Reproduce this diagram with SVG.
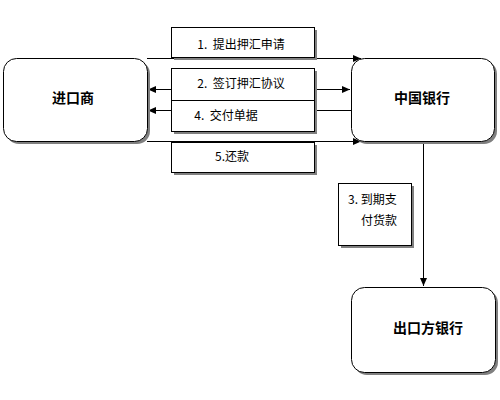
<svg xmlns="http://www.w3.org/2000/svg" width="500" height="400" viewBox="0 0 500 400">
<style>
.node{fill:#fff;stroke:#000;stroke-width:1}
.sh{fill:#808080}
.lbl{fill:#fff;stroke:#000;stroke-width:1}
.t{font-family:"Noto Sans CJK SC","Noto Sans",sans-serif;font-size:12px;fill:#000}
.big{font-family:"Noto Sans CJK SC","Noto Sans",sans-serif;font-size:14px;font-weight:bold;fill:#000}
.c{fill:none;stroke:#000;stroke-width:1}
</style>
<defs>
<marker id="ah" viewBox="0 0 8 8" refX="8" refY="4" markerWidth="8" markerHeight="8" markerUnits="userSpaceOnUse" orient="auto-start-reverse">
<path d="M0,0.5 L8,4 L0,7.5 z" fill="#000"/>
</marker>
</defs>
<rect width="500" height="400" fill="#fff"/>
<g id="connectors">
<path class="c" d="M147,58.5 H361" marker-end="url(#ah)"/>
<path class="c" d="M148,89.5 H350" marker-start="url(#ah)" marker-end="url(#ah)"/>
<path class="c" d="M351,110.5 H148" marker-end="url(#ah)"/>
<path class="c" d="M147,141.5 H361" marker-end="url(#ah)"/>
<path class="c" d="M423.5,141 V286" marker-end="url(#ah)"/>
</g>
<g id="importer">
<rect class="sh" x="6" y="61" width="144" height="83" rx="13"/>
<rect class="node" x="3.5" y="58.5" width="144" height="83" rx="13"/>
<text class="big" x="73" y="103" text-anchor="middle">进口商</text>
</g>
<g id="boc">
<rect class="sh" x="354" y="61" width="143" height="83" rx="13"/>
<rect class="node" x="351.5" y="58.5" width="143" height="83" rx="13"/>
<text class="big" x="422" y="103" text-anchor="middle">中国银行</text>
</g>
<g id="exporter-bank">
<rect class="sh" x="354" y="290" width="144" height="85" rx="13"/>
<rect class="node" x="351.5" y="287.5" width="144" height="85" rx="13"/>
<text class="big" x="428" y="333" text-anchor="middle">出口方银行</text>
</g>
<g id="label1">
<rect class="sh" x="174" y="30" width="143" height="30"/>
<rect class="lbl" x="171.5" y="27.5" width="143" height="30"/>
<text class="t" x="241" y="49" text-anchor="middle" xml:space="preserve">1.  提出押汇申请</text>
</g>
<g id="label2-4">
<rect class="sh" x="174" y="71" width="143" height="63"/>
<rect class="lbl" x="171.5" y="68.5" width="143" height="32"/>
<rect class="lbl" x="171.5" y="100.5" width="143" height="31"/>
<text class="t" x="241" y="88" text-anchor="middle" xml:space="preserve">2.  签订押汇协议</text>
<text class="t" x="226" y="120" text-anchor="middle" xml:space="preserve">4.  交付单据</text>
</g>
<g id="label5">
<rect class="sh" x="174" y="145" width="143" height="30"/>
<rect class="lbl" x="171.5" y="142.5" width="143" height="30"/>
<text class="t" x="232" y="161" text-anchor="middle">5.还款</text>
</g>
<g id="label3">
<rect class="sh" x="341" y="186" width="73" height="62"/>
<rect class="lbl" x="338.5" y="183.5" width="73" height="62"/>
<text class="t" x="348" y="204" xml:space="preserve">3. 到期支</text>
<text class="t" x="361" y="225">付货款</text>
</g>
</svg>
